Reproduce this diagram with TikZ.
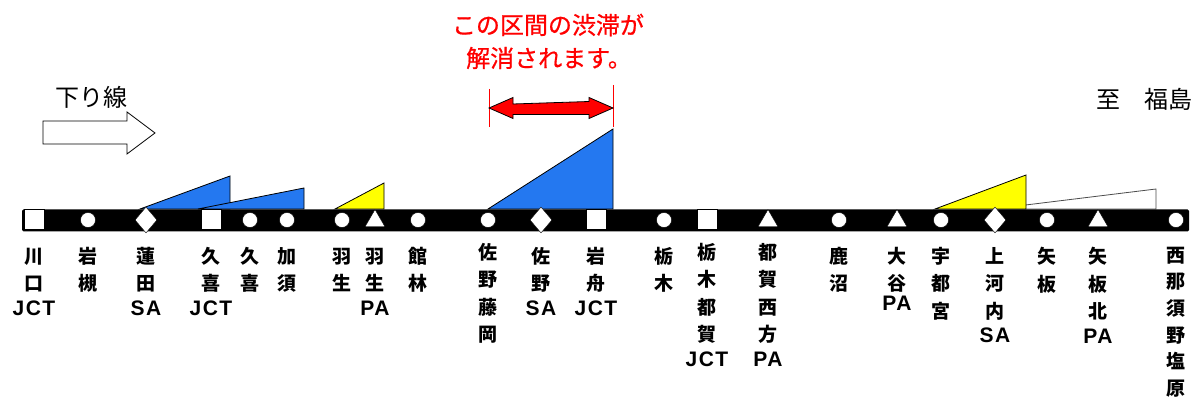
\documentclass[tikz,border=0pt]{standalone}
\usepackage{fontspec}
\usetikzlibrary{shapes.geometric}
\newfontfamily\jp{Noto Sans CJK JP}
\newfontfamily\jpm{Noto Sans CJK JP}[FakeBold=0.7]
\newfontfamily\lat{Liberation Sans}[LetterSpace=7]
\definecolor{wblue}{RGB}{36,120,240}
\definecolor{wyel}{RGB}{255,255,0}
\definecolor{ared}{RGB}{255,0,0}
\newcommand\toprl{\rule{0pt}{16pt}}
\newcommand\la[1]{{\lat\bfseries\fontsize{21}{21}\selectfont #1}}
\begin{document}
\begin{tikzpicture}[x=1pt,y=-1pt,
  sq/.style={rectangle,draw=black,line width=1pt,fill=white,minimum size=20pt,inner sep=0pt},
  ci/.style={circle,draw=black,fill=white,minimum size=15pt,inner sep=0pt},
  di/.style={diamond,draw=black,fill=white,minimum width=22pt,minimum height=26pt,inner sep=0pt},
  tr/.style={regular polygon,regular polygon sides=3,draw=black,fill=white,minimum size=23pt,inner sep=0pt},
  lab/.style={anchor=north,align=center,inner sep=0pt,font=\jp\bfseries\fontsize{19}{27.5}\selectfont},
  wedge/.style={draw=black,line width=0.8pt,line join=miter},
  big/.style={font=\jp\fontsize{24}{24}\selectfont,inner sep=0pt},
  redt/.style={font=\jpm\fontsize{24}{24}\selectfont,inner sep=0pt,text=ared}]
\useasboundingbox (0,0) rectangle (1204,403);
\fill[white] (0,0) rectangle (1204,403);

% title texts
\node[redt] (t1) at (548,25) {この区間の渋滞が};
\node[redt] (t2) at (549,58) {解消されます。};
\node[big] (dir) at (91,97) {下り線};
\node[big] (dest) at (1144,99) {至　福島};

% direction arrow
\draw[line width=0.8pt,fill=white] (43,121) -- (127,121) -- (127,112) -- (155,133) -- (127,154) -- (127,144) -- (43,144) -- cycle;

% red range arrow
\coordinate (aL) at (489,108);
\coordinate (aR) at (613,108);
\draw[ared,line width=1pt] (489,89) -- (489,127);
\draw[ared,line width=1pt] (613,85) -- (613,127);
\draw[fill=ared,line width=0.8pt,line join=miter] (aL) -- ++(24,-10.5) -- ++(0,6.5) -- (589,101.5) -- ++(0,-4) -- (aR) -- (589,118.5) -- ++(0,-4) -- (513,114.5) -- ++(0,4) -- cycle;

% congestion wedges
\filldraw[wedge,fill=wblue] (140,209) -- (230,176) -- (230,209) -- cycle;
\filldraw[wedge,fill=wblue] (198,209) -- (304,188) -- (304,209) -- cycle;
\filldraw[wedge,fill=wyel] (335,209) -- (384,183) -- (384,209) -- cycle;
\filldraw[wedge,fill=wblue] (488,209) -- (613,129) -- (613,209) -- cycle;
\filldraw[wedge,draw=black!70,fill=white] (993,209) -- (1156,189) -- (1156,209) -- cycle;
\filldraw[wedge,fill=wyel] (935,209) -- (1026,175) -- (1026,209) -- cycle;

% road
\fill[black,rounded corners=1.5pt] (22,209.5) rectangle (1189,231.5);

% stations
\node[sq] (s1) at (34,220) {};
\node[ci] (s2) at (88,220) {};
\node[di] (s3) at (146,220) {};
\node[sq] (s4) at (211,220) {};
\node[ci] (s5) at (250,220) {};
\node[ci] (s6) at (287,220) {};
\node[ci] (s7) at (342,220) {};
\node[tr] (s8) at (375,221) {};
\node[ci] (s9) at (418,220) {};
\node[ci] (s10) at (488,220) {};
\node[di] (s11) at (541,220) {};
\node[sq] (s12) at (596,220) {};
\node[ci] (s13) at (664,220) {};
\node[sq] (s14) at (707,220) {};
\node[tr] (s15) at (768,221) {};
\node[ci] (s16) at (839,220) {};
\node[tr] (s17) at (897,221) {};
\node[ci] (s18) at (941,220) {};
\node[di] (s19) at (995,220) {};
\node[ci] (s20) at (1047,220) {};
\node[tr] (s21) at (1098,221) {};
\node[ci] (s22) at (1176,220) {};

% labels
\node[lab] (l1) at (34,247) {\toprl 川\\口\\[-2.5pt]\la{JCT}};
\node[lab] (l2) at (88,247) {\toprl 岩\\槻};
\node[lab] (l3) at (146,247) {\toprl 蓮\\田\\[-2.5pt]\la{SA}};
\node[lab] (l4) at (211,247) {\toprl 久\\喜\\[-2.5pt]\la{JCT}};
\node[lab] (l5) at (250,247) {\toprl 久\\喜};
\node[lab] (l6) at (287,247) {\toprl 加\\須};
\node[lab] (l7) at (342,247) {\toprl 羽\\生};
\node[lab] (l8) at (375,247) {\toprl 羽\\生\\[-2.5pt]\la{PA}};
\node[lab] (l9) at (418,247) {\toprl 館\\林};
\node[lab] (l10) at (488,243) {\toprl 佐\\野\\藤\\岡};
\node[lab] (l11) at (541,247) {\toprl 佐\\野\\[-3pt]\la{SA}};
\node[lab] (l12) at (596,247) {\toprl 岩\\舟\\[-3pt]\la{JCT}};
\node[lab] (l13) at (664,247) {\toprl 栃\\木};
\node[lab] (l14) at (707,243) {\toprl 栃\\木\\都\\賀\\[-2.5pt]\la{JCT}};
\node[lab] (l15) at (768,243) {\toprl 都\\賀\\西\\方\\[-2.5pt]\la{PA}};
\node[lab] (l16) at (839,247) {\toprl 鹿\\沼};
\node[lab] (l17) at (897,247) {\toprl 大\\谷\\[-8pt]\la{PA}};
\node[lab] (l18) at (941,247) {\toprl 宇\\都\\宮};
\node[lab] (l19) at (995,247) {\toprl 上\\河\\内\\[-3pt]\la{SA}};
\node[lab] (l20) at (1047,247) {\toprl 矢\\板};
\node[lab] (l21) at (1098,247) {\toprl 矢\\板\\北\\[-3pt]\la{PA}};
\node[lab,font=\jp\bfseries\fontsize{19}{26.6}\selectfont] (l22) at (1176,246) {\toprl 西\\那\\須\\野\\塩\\原};
\end{tikzpicture}
\end{document}
